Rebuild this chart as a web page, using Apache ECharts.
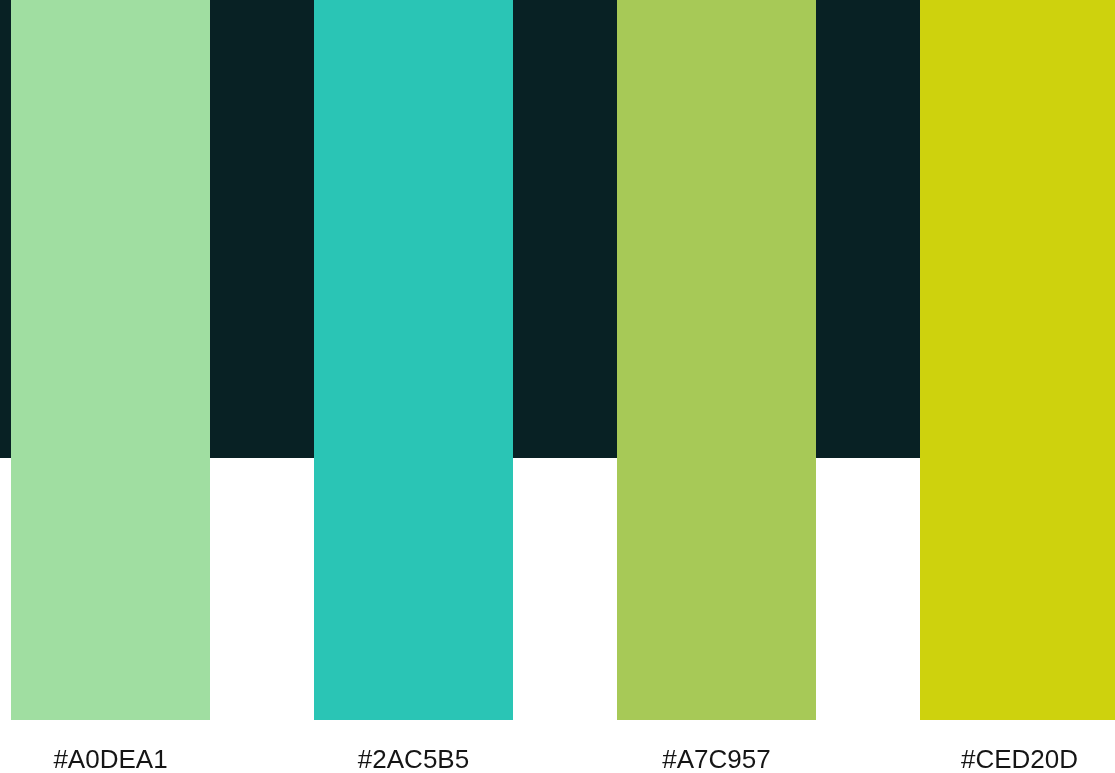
<!DOCTYPE html>
<html>
<head>
<meta charset="utf-8">
<script src="https://cdn.jsdelivr.net/npm/echarts@6/dist/echarts.min.js"></script>
<style>
html,body{margin:0;padding:0;background:#ffffff;}
#chart{width:1115px;height:773px;}
</style>
</head>
<body>
<div id="chart"></div>
<script>
const categories = ['#A0DEA1', '#2AC5B5', '#A7C957', '#CED20D'];
const values = [1, 1, 1, 1];
const barColors = ['#A0DEA1', '#2AC5B5', '#A7C957', '#CED20D'];

const chart = echarts.init(document.getElementById('chart'), null, {renderer: 'canvas'});
chart.setOption({
  animation: false,
  backgroundColor: '#ffffff',
  graphic: [{
    type: 'rect',
    z: -10,
    shape: {x: 0, y: 0, width: 920, height: 458},
    style: {fill: '#082124'},
    silent: true
  }],
  grid: {left: -41, top: 0, width: 1212, height: 720, containLabel: false, outerBoundsMode: 'none'},
  xAxis: {
    type: 'category',
    data: categories,
    axisLine: {show: false},
    axisTick: {show: false},
    axisLabel: {
      margin: 28,
      fontFamily: 'Liberation Sans',
      fontSize: 26,
      color: '#151515'
    }
  },
  yAxis: {
    type: 'value',
    min: 0,
    max: 1,
    show: false,
    splitLine: {show: false}
  },
  series: [{
    type: 'bar',
    data: values.map((v, i) => ({value: v, itemStyle: {color: barColors[i]}})),
    barWidth: 199,
    z: 5
  }]
});
</script>
</body>
</html>
